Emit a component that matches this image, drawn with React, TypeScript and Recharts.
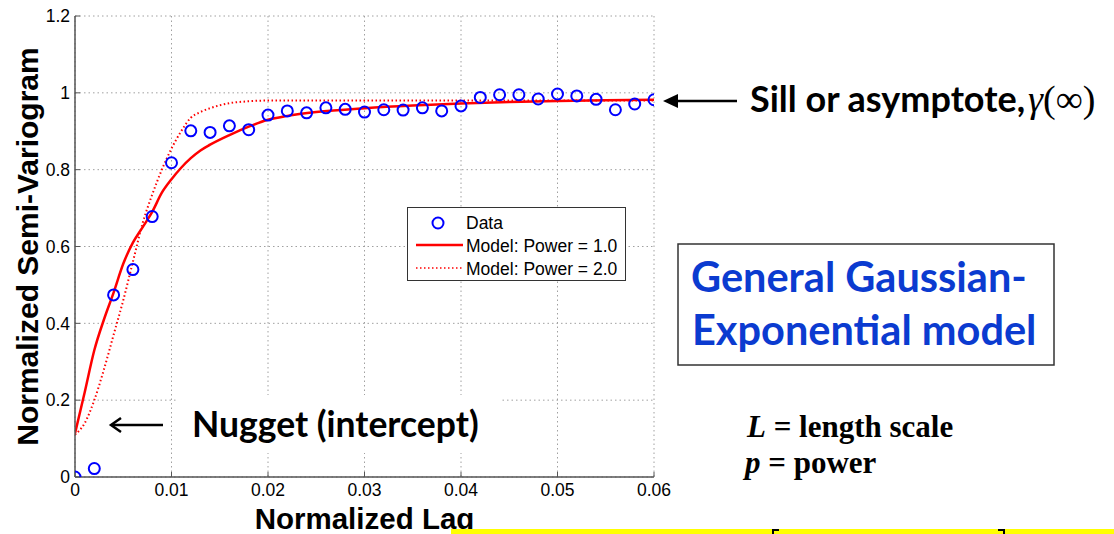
import React from "react";
import {
  CartesianGrid,
  ComposedChart,
  Label,
  Legend,
  Line,
  Scatter,
  XAxis,
  YAxis
} from "recharts";

const lags = [
  0, 0.002, 0.004, 0.006, 0.008, 0.01, 0.012, 0.014, 0.016, 0.018, 0.02, 0.022, 0.024, 0.026, 0.028, 0.03,
  0.032, 0.034, 0.036, 0.038, 0.04, 0.042, 0.044, 0.046, 0.048, 0.05, 0.052, 0.054, 0.056, 0.058, 0.06
];
const gammaObs = [
  0, 0.022, 0.474, 0.54, 0.678, 0.818, 0.901, 0.897, 0.914, 0.904, 0.942, 0.953, 0.948, 0.961, 0.957, 0.95,
  0.956, 0.955, 0.961, 0.953, 0.966, 0.988, 0.995, 0.995, 0.984, 0.997, 0.992, 0.983, 0.956, 0.971, 0.982
];

// fitted model curves
const modelLags = [
  0, 0.001, 0.002, 0.003, 0.004, 0.005, 0.006, 0.007, 0.008, 0.009, 0.01, 0.011, 0.012, 0.013, 0.014, 0.016,
  0.018, 0.02, 0.022, 0.025, 0.03, 0.035, 0.04, 0.045, 0.05, 0.055, 0.06
];
const power1 = [
  0.113, 0.22, 0.33, 0.41, 0.48, 0.555, 0.61, 0.65, 0.69, 0.74, 0.775, 0.805, 0.83, 0.85, 0.865, 0.89,
  0.912, 0.93, 0.94, 0.95, 0.96, 0.967, 0.972, 0.976, 0.979, 0.981, 0.982
];
const power2 = [
  0.11, 0.14, 0.2, 0.28, 0.37, 0.46, 0.56, 0.66, 0.735, 0.8, 0.855, 0.9, 0.935, 0.95, 0.96, 0.973,
  0.978, 0.98, 0.98, 0.98, 0.98, 0.98, 0.98, 0.98, 0.98, 0.98, 0.98
];

const xTicks = [0, 0.01, 0.02, 0.03, 0.04, 0.05, 0.06];
const yTicks = [0, 0.2, 0.4, 0.6, 0.8, 1, 1.2];
const legendNames = ["Data", "Model: Power = 1.0", "Model: Power = 2.0"];

const observed = lags.map((x, i) => ({ x, y: gammaObs[i] }));
const model1 = modelLags.map((x, i) => ({ x, y: power1[i] }));
const model2 = modelLags.map((x, i) => ({ x, y: power2[i] }));

const SANS = '"Liberation Sans", Arial, Helvetica, sans-serif';
const CALI = 'Lato, "Open Sans", sans-serif';
const SERIF = '"Liberation Serif", "Times New Roman", serif';
const AXIS = "#555";
const tickStyle = { fontSize: 17.5, fill: "#000", fontFamily: SANS };

const Ring = (p: any) => (
  <circle cx={p.cx} cy={p.cy} r={5.5} fill="none" stroke="#0000ff" strokeWidth={2} />
);

const LegendBox = () => (
  <div style={{ width: 219, height: 74, boxSizing: "border-box", border: "1px solid #333", background: "#fff" }}>
    <svg width={217} height={72} style={{ display: "block" }}>
      <circle cx={30} cy={15} r={5.5} fill="none" stroke="#0000ff" strokeWidth={2} />
      <line x1={8} x2={55} y1={37} y2={37} stroke="#ff0000" strokeWidth={2.5} />
      <line x1={8} x2={55} y1={60} y2={60} stroke="#ff0000" strokeWidth={1.5} strokeDasharray="1.5 2.5" />
      {legendNames.map((n, i) => (
        <text key={n} x={58} y={21 + i * 23} fontSize={17.5} fontFamily={SANS} fill="#000">
          {n}
        </text>
      ))}
    </svg>
  </div>
);

export default function App() {
  return (
    <div style={{ position: "absolute", left: 0, top: 0, width: 1114, height: 534, background: "#fff", fontFamily: SANS, overflow: "hidden" }}>
      <ComposedChart width={1114} height={534} margin={{ top: 16, right: 460, bottom: 0, left: 0 }}>
        <CartesianGrid stroke="#a0a0a0" strokeDasharray="1.5 3" />
        <XAxis
          dataKey="x"
          type="number"
          domain={[0, 0.06]}
          ticks={xTicks}
          interval={0}
          allowDataOverflow
          height={57}
          tickSize={-5}
          tickMargin={12}
          tick={tickStyle}
          tickFormatter={(v) => String(v)}
          axisLine={{ stroke: AXIS, strokeWidth: 1.5 }}
          tickLine={{ stroke: AXIS }}
        >
          <Label
            value="Normalized Lag"
            position="insideBottom"
            offset={5}
            style={{ fontSize: 29.5, fontWeight: 700, fill: "#000", fontFamily: SANS }}
          />
        </XAxis>
        <XAxis
          xAxisId="top"
          orientation="top"
          dataKey="x"
          type="number"
          domain={[0, 0.06]}
          ticks={xTicks}
          interval={0}
          allowDataOverflow
          height={0}
          tickSize={-5}
          tickFormatter={() => ""}
          axisLine={{ stroke: AXIS, strokeWidth: 1.5 }}
          tickLine={{ stroke: AXIS }}
        />
        <YAxis
          type="number"
          domain={[0, 1.2]}
          ticks={yTicks}
          interval={0}
          allowDataOverflow
          width={75}
          tickSize={-5}
          tickMargin={10}
          tick={tickStyle}
          tickFormatter={(v) => String(v)}
          axisLine={{ stroke: AXIS, strokeWidth: 1.5 }}
          tickLine={{ stroke: AXIS }}
        >
          <Label
            value="Normalized Semi-Variogram"
            angle={-90}
            position="insideLeft"
            offset={27}
            style={{ fontSize: 30, fontWeight: 700, fill: "#000", fontFamily: SANS, textAnchor: "middle" }}
          />
        </YAxis>
        <YAxis
          yAxisId="right"
          orientation="right"
          type="number"
          domain={[0, 1.2]}
          ticks={yTicks}
          interval={0}
          allowDataOverflow
          width={0}
          tickSize={-5}
          tickFormatter={() => ""}
          axisLine={{ stroke: AXIS, strokeWidth: 1.5 }}
          tickLine={{ stroke: AXIS }}
        />
        <Scatter name={legendNames[0]} data={observed} dataKey="y" shape={Ring} isAnimationActive={false} />
        <Line
          name={legendNames[1]}
          data={model1}
          dataKey="y"
          type="monotone"
          stroke="#ff0000"
          strokeWidth={2.5}
          dot={false}
          isAnimationActive={false}
        />
        <Line
          name={legendNames[2]}
          data={model2}
          dataKey="y"
          type="monotone"
          stroke="#ff0000"
          strokeWidth={2}
          strokeDasharray="1.5 2.5"
          dot={false}
          isAnimationActive={false}
        />
        <Legend
          layout="vertical"
          align="center"
          verticalAlign="middle"
          content={<LegendBox />}
          wrapperStyle={{ left: 407, top: 207, width: 219, height: 74 }}
        />
      </ComposedChart>

      {/* slide annotations */}
      <svg width={1114} height={534} style={{ position: "absolute", left: 0, top: 0, pointerEvents: "none" }}>
        <rect x={177} y={395} width={323} height={58} fill="#fff" />
        <text x={192} y={437} fontFamily={CALI} fontWeight={700} fontSize={35.5} fill="#000">
          Nugget (intercept)
        </text>
        <line x1={112} x2={163} y1={425} y2={425} stroke="#000" strokeWidth={2.5} />
        <path d="M121,418 L111,425 L121,432" fill="none" stroke="#000" strokeWidth={2.5} />

        <line x1={672} x2={737} y1={101} y2={101} stroke="#000" strokeWidth={2.5} />
        <path d="M663,101 L678,94 L678,108 Z" fill="#000" />
        <text x={750} y={112} fontFamily={CALI} fontWeight={700} fontSize={36} fill="#000">
          Sill or asymptote,
          <tspan fontFamily={SERIF} fontWeight={400} fontStyle="italic" fontSize={38} dx={3}>γ</tspan>
          <tspan fontFamily={SERIF} fontWeight={400} fontSize={38}>(∞)</tspan>
        </text>

        <rect x={678} y={244} width={376} height={121} fill="#fff" stroke="#333" strokeWidth={1.5} />
        <text x={691} y={292} fontFamily={CALI} fontWeight={700} fontSize={41.5} fill="#0b3bd0">
          General Gaussian-
        </text>
        <text x={692} y={345} fontFamily={CALI} fontWeight={700} fontSize={41.5} fill="#0b3bd0">
          Exponential model
        </text>

        <text x={747} y={437} fontFamily={SERIF} fontWeight={700} fontSize={31} fill="#000">
          <tspan fontStyle="italic">L</tspan> = length scale
        </text>
        <text x={745} y={473} fontFamily={SERIF} fontWeight={700} fontSize={31} fill="#000">
          <tspan fontStyle="italic">p</tspan> = power
        </text>

        <rect x={451} y={529} width={663} height={5} fill="#ffff00" />
        <path d="M773,534 L773,530 L779,530" fill="none" stroke="#000" strokeWidth={2} />
        <path d="M1004,534 L1004,530 L998,530" fill="none" stroke="#000" strokeWidth={2} />
      </svg>
    </div>
  );
}
